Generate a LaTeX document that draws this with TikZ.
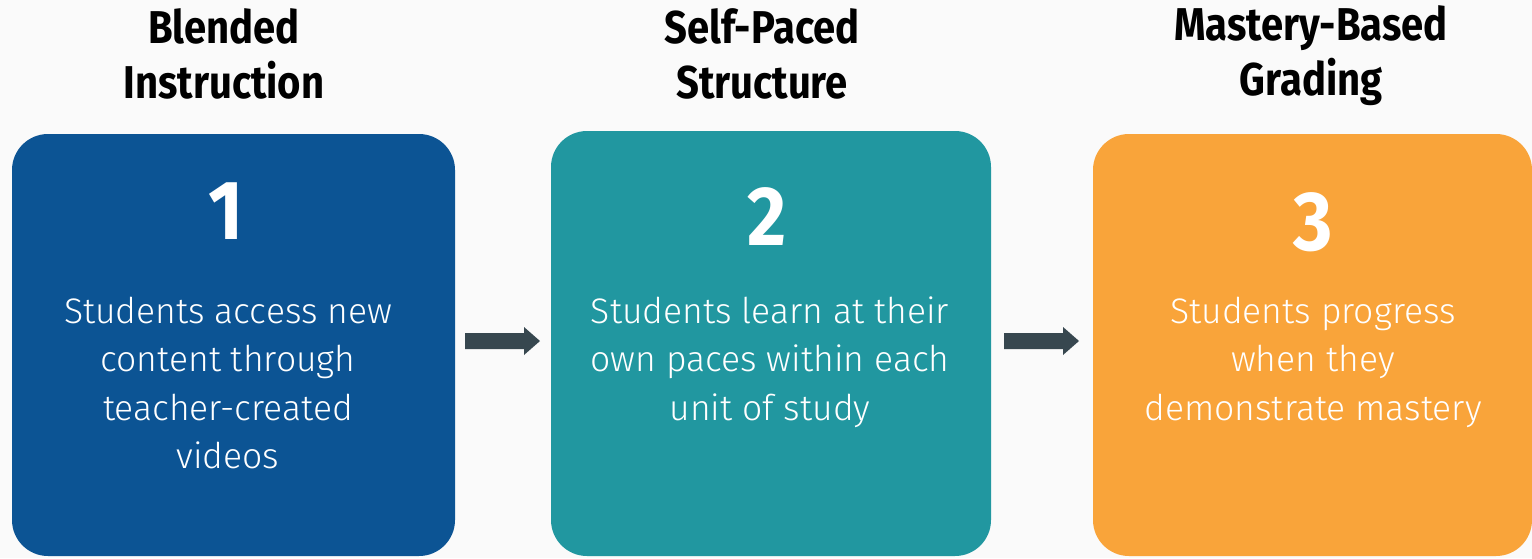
\documentclass[tikz,border=0pt]{standalone}
\usepackage{fontspec}
\usetikzlibrary{calc}
\setmainfont{Fira Sans}
\newfontfamily\titlefont[FakeStretch=0.87]{Fira Sans Bold}
\newfontfamily\bodyfont{Fira Sans Light}
\newfontfamily\numfont[FakeStretch=0.9]{Fira Sans Bold}
\definecolor{bgc}{HTML}{FAFAFA}
\definecolor{c1}{HTML}{0C5494}
\definecolor{c2}{HTML}{2197A0}
\definecolor{c3}{HTML}{F9A43A}
\definecolor{arr}{HTML}{37474F}
\tikzset{
  card/.style={rounded corners=36pt, draw=none},
  ttl/.style={font=\titlefont\fontsize{46}{55}\selectfont, align=center, text=black, inner sep=0pt},
  num/.style={font=\numfont\fontsize{84}{84}\selectfont, text=white, inner sep=0pt},
  body/.style={font=\bodyfont\fontsize{35.5}{48.5}\selectfont, align=center, text=white, inner sep=0pt},
  fatarrow/.style={fill=arr, draw=none}
}
\begin{document}
\begin{tikzpicture}[x=1pt,y=-1pt]
\useasboundingbox (0,0) rectangle (1532,558);
\fill[bgc] (0,0) rectangle (1532,558);
% cards
\fill[c1, card] (12,134) rectangle (455,556);
\fill[c2, card] (551,131) rectangle (991,556);
\fill[c3, card] (1093,134) rectangle (1532,556);
% titles
\node[ttl] (t1) at (224,54) {Blended\\Instruction};
\node[ttl] (t2) at (762,54) {Self-Paced\\Structure};
\node[ttl] (t3) at (1311,56) {Mastery-Based\\Grading};
% numbers
\node[num] (n1) at (226,211) {1};
\node[num] (n2) at (767,217) {2};
\node[num] (n3) at (1313,222) {3};
% bodies
\node[body] (d1) at (228,383) {Students access new\\content through\\teacher-created\\videos};
\node[body] (d2) at (770,362) {Students learn at their\\own paces within each\\unit of study};
\node[body] (d3) at (1313,362) {Students progress\\when they\\demonstrate mastery};
% arrows
\coordinate (a1s) at (465,341);
\coordinate (a1e) at (540,341);
\coordinate (a2s) at (1004,341);
\coordinate (a2e) at (1079,341);
\fill[fatarrow] ($(a1s)+(0,-8)$) -- ++(59,0) -- ++(0,-6) -- (a1e) -- ++(-16,14) -- ++(0,-6) -- ++(-59,0) -- cycle;
\fill[fatarrow] ($(a2s)+(0,-8)$) -- ++(59,0) -- ++(0,-6) -- (a2e) -- ++(-16,14) -- ++(0,-6) -- ++(-59,0) -- cycle;
\end{tikzpicture}
\end{document}
